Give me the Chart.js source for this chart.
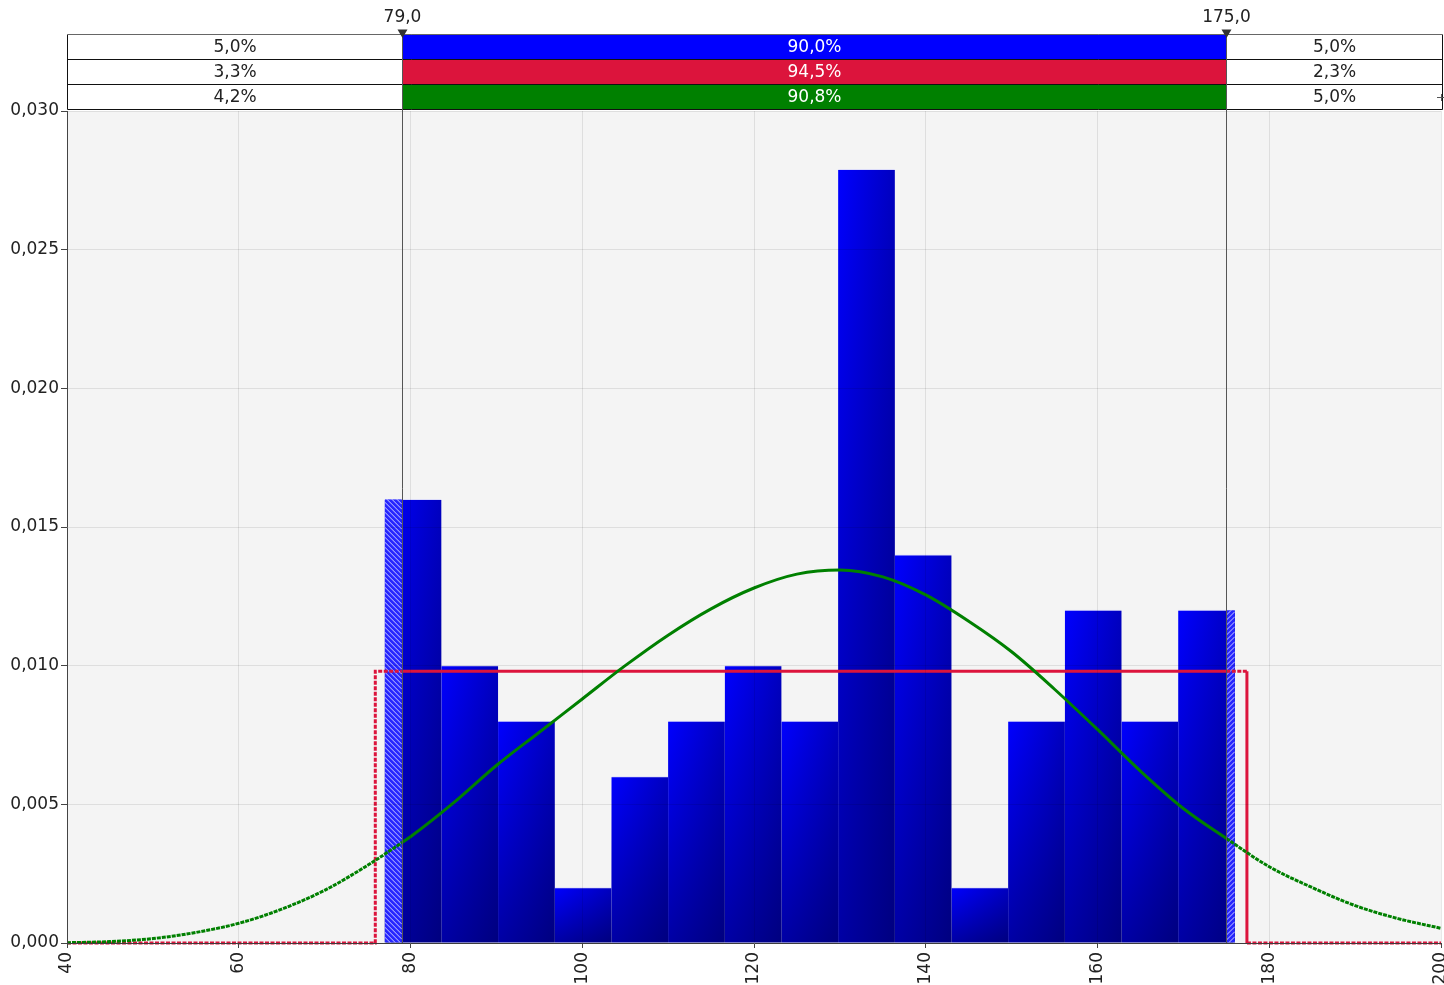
<!DOCTYPE html>
<html>
<head>
<meta charset="utf-8">
<script src="https://cdn.jsdelivr.net/npm/chart.js@4.4.1/dist/chart.umd.min.js"></script>
<style>
  html, body { margin: 0; padding: 0; background: #fff; overflow: hidden; }
  #wrap { width: 1444px; height: 985px; position: relative; }
</style>
</head>
<body>
<div id="wrap"><canvas id="c"></canvas></div>
<script>
// Histogram: bin centres and probability densities
const binCenters = [80.3, 86.9, 93.5, 100.1, 106.7, 113.3, 119.9, 126.5, 133.1, 139.7, 146.3, 152.9, 159.5, 166.1, 172.7];
const binDensity = [0.0160, 0.0100, 0.0080, 0.0020, 0.0060, 0.0080, 0.0100, 0.0080, 0.0279, 0.0140, 0.0020, 0.0080, 0.0120, 0.0080, 0.0120];

// Fitted uniform density (outline)
const uniformX = [40, 75.9, 75.9, 79, 175, 177.4, 177.4, 200];
const uniformY = [0, 0, 0.0098, 0.0098, 0.0098, 0.0098, 0, 0];

// Fitted normal density
const normalX = [40, 45, 50, 55, 60, 65, 70, 75, 79, 80, 85, 90, 95, 100, 105, 110, 115, 120, 125, 130,
                 135, 140, 145, 150, 155, 160, 165, 170, 175, 180, 185, 190, 195, 200];
const normalY = [0.00001, 0.00005, 0.00016, 0.00038, 0.00071, 0.00122, 0.00190, 0.00280, 0.00362, 0.00383,
                 0.00505, 0.00640, 0.00760, 0.00880, 0.01000, 0.01110, 0.01205, 0.01280, 0.01330, 0.01345,
                 0.01320, 0.01255, 0.01160, 0.01050, 0.00915, 0.00770, 0.00620, 0.00485, 0.00377, 0.00275,
                 0.00200, 0.00135, 0.00088, 0.00053];

// Delimiters and the probability bands they produce (histogram, uniform, normal)
const delimiters = [79.0, 175.0];
const leftPercents = [5.0, 3.3, 4.2];
const midPercents = [90.0, 94.5, 90.8];
const rightPercents = [5.0, 2.3, 5.0];
const rowColors = ['#0000ff', '#dc143c', '#008000'];

const FONT = 'DejaVu Sans';
const FSIZE = 17;
Chart.defaults.font.family = FONT;
Chart.defaults.font.size = FSIZE;
Chart.defaults.color = '#222';

const fmtPct = v => v.toFixed(1).replace('.', ',') + '%';
const fmtNum = (v, d) => v.toFixed(d).replace('.', ',');
const outside = (a, b) => (a <= delimiters[0] && b <= delimiters[0]) || (a >= delimiters[1] && b >= delimiters[1]);

// plot background
const plotBackground = {
  id: 'plotBackground',
  beforeDraw(chart) {
    const { ctx, chartArea: a } = chart;
    ctx.save();
    ctx.fillStyle = '#ffffff';
    ctx.fillRect(0, 0, chart.width, chart.height);
    ctx.fillStyle = '#f4f4f4';
    ctx.fillRect(a.left, a.top, a.right - a.left, a.bottom - a.top);
    ctx.restore();
  }
};

// vertical shading on each bar and hatching of the parts beyond the delimiters
const barDecor = {
  id: 'barDecor',
  afterDatasetDraw(chart, args) {
    const meta = args.meta;
    if (meta.type !== 'bar') return;
    const { ctx } = chart;
    const xs = chart.scales.x;
    const dl = xs.getPixelForValue(delimiters[0]);
    const dr = xs.getPixelForValue(delimiters[1]);
    ctx.save();
    meta.data.forEach(el => {
      const { x, y, base, width } = el.getProps(['x', 'y', 'base', 'width'], true);
      const left = x - width / 2, right = x + width / 2, h = base - y;
      const g = ctx.createLinearGradient(0, y, 0, base);
      g.addColorStop(0, 'rgba(0,0,30,0)');
      g.addColorStop(1, 'rgba(0,0,30,0.40)');
      ctx.fillStyle = g;
      ctx.fillRect(left, y, width, h);

      const hatch = (rx0, rx1, dir) => {
        if (rx1 <= rx0) return;
        ctx.save();
        ctx.beginPath();
        ctx.rect(rx0, y, rx1 - rx0, h);
        ctx.clip();
        ctx.fillStyle = '#2626ff';
        ctx.fillRect(rx0, y, rx1 - rx0, h);
        ctx.strokeStyle = 'rgba(235,235,255,0.85)';
        ctx.lineWidth = 1;
        ctx.beginPath();
        const w = rx1 - rx0;
        for (let k = -w - 10; k < h + 10; k += 5) {
          if (dir > 0) {
            ctx.moveTo(rx0, y + k);
            ctx.lineTo(rx1, y + k + w);
          } else {
            ctx.moveTo(rx0, y + k + w);
            ctx.lineTo(rx1, y + k);
          }
        }
        ctx.stroke();
        ctx.restore();
      };
      if (left < dl) hatch(left, Math.min(right, dl), 1);
      if (right > dr) hatch(Math.max(left, dr), right, -1);
    });
    ctx.restore();
  }
};

// probability band table, delimiter lines and markers
const header = {
  id: 'header',
  afterDraw(chart) {
    const { ctx, chartArea: a } = chart;
    const xs = chart.scales.x;
    const dl = Math.round(xs.getPixelForValue(delimiters[0])) + 0.5;
    const dr = Math.round(xs.getPixelForValue(delimiters[1])) + 0.5;
    const L = a.left + 0.5, R = chart.width - 1.5;
    const top = 34.5, rowH = 25;
    ctx.save();
    ctx.font = FSIZE + 'px ' + FONT;
    ctx.textAlign = 'center';
    ctx.textBaseline = 'middle';
    for (let r = 0; r < 3; r++) {
      const y0 = top + r * rowH;
      ctx.fillStyle = '#ffffff';
      ctx.fillRect(L, y0, dl - L, rowH);
      ctx.fillRect(dr, y0, R - dr, rowH);
      ctx.fillStyle = rowColors[r];
      ctx.fillRect(dl, y0, dr - dl, rowH);
      ctx.fillStyle = '#222';
      ctx.fillText(fmtPct(leftPercents[r]), (L + dl) / 2, y0 + rowH / 2 + 1);
      ctx.fillText(fmtPct(rightPercents[r]), (dr + R) / 2, y0 + rowH / 2 + 1);
      ctx.fillStyle = '#ffffff';
      ctx.fillText(fmtPct(midPercents[r]), (dl + dr) / 2, y0 + rowH / 2 + 1);
    }
    ctx.lineWidth = 1;
    ctx.strokeStyle = '#111';
    ctx.beginPath();
    for (let r = 1; r <= 3; r++) {
      ctx.moveTo(L, top + r * rowH);
      ctx.lineTo(R, top + r * rowH);
    }
    [L, R].forEach(x => { ctx.moveTo(x, top); ctx.lineTo(x, top + 3 * rowH); });
    ctx.stroke();
    ctx.strokeStyle = '#666';
    ctx.beginPath();
    ctx.moveTo(L, top); ctx.lineTo(R, top);
    ctx.stroke();

    // delimiter lines
    ctx.strokeStyle = '#555';
    ctx.beginPath();
    [dl, dr].forEach(x => { ctx.moveTo(x, top); ctx.lineTo(x, a.bottom); });
    ctx.stroke();

    // markers and labels
    ctx.fillStyle = '#333';
    [dl, dr].forEach(x => {
      ctx.beginPath();
      ctx.moveTo(x - 5, 29.5);
      ctx.lineTo(x + 5, 29.5);
      ctx.lineTo(x, 38);
      ctx.closePath();
      ctx.fill();
    });
    ctx.fillStyle = '#222';
    ctx.fillText(fmtNum(delimiters[0], 1), dl, 18);
    ctx.fillText(fmtNum(delimiters[1], 1), dr, 18);

    // small marker at the right end of the last row
    ctx.strokeStyle = '#555';
    ctx.beginPath();
    ctx.moveTo(1437, 97.5); ctx.lineTo(1444, 97.5);
    ctx.moveTo(1441.5, 94); ctx.lineTo(1441.5, 101);
    ctx.stroke();
    ctx.restore();
  }
};

const gridOpts = { color: 'rgba(0,0,0,0.09)', z: 1, offset: false, tickLength: 6, tickColor: '#444', drawTicks: true };
const borderOpts = { color: '#444', width: 1, z: 1 };

new Chart(document.getElementById('c'), {
  type: 'line',
  data: {
    datasets: [
      {
        type: 'line',
        label: 'Normal',
        data: normalX.map((x, i) => ({ x, y: normalY[i] })),
        borderColor: '#008000',
        borderWidth: 3,
        pointRadius: 0,
        cubicInterpolationMode: 'monotone',
        fill: false,
        order: 1,
        clip: 4,
        segment: {
          borderDash: ctx => outside(ctx.p0.parsed.x, ctx.p1.parsed.x) ? [4, 1] : undefined
        }
      },
      {
        type: 'line',
        label: 'Uniform',
        data: uniformX.map((x, i) => ({ x, y: uniformY[i] })),
        borderColor: '#dc143c',
        borderWidth: 3,
        pointRadius: 0,
        tension: 0,
        fill: false,
        order: 2,
        clip: 4,
        segment: {
          borderDash: ctx => outside(ctx.p0.parsed.x, ctx.p1.parsed.x) ? [4, 1.5] : undefined
        }
      },
      {
        type: 'bar',
        label: 'Histogram',
        data: binCenters.map((x, i) => ({ x, y: binDensity[i] })),
        barPercentage: 1.0,
        categoryPercentage: 1.0,
        grouped: false,
        order: 3,
        borderWidth: { top: 1, left: 0, right: 0, bottom: 0 },
        borderColor: 'rgba(200,200,255,0.55)',
        borderSkipped: false,
        backgroundColor(ctx) {
          const chart = ctx.chart;
          if (!chart.chartArea || ctx.type !== 'data') return '#0000ff';
          const xs = chart.scales.x;
          const cx = xs.getPixelForValue(binCenters[ctx.dataIndex]);
          const half = (xs.getPixelForValue(binCenters[1]) - xs.getPixelForValue(binCenters[0])) / 2;
          const g = chart.ctx.createLinearGradient(cx - half, 0, cx + half, 0);
          g.addColorStop(0, '#0000ff');
          g.addColorStop(1, '#0000c0');
          return g;
        }
      }
    ]
  },
  options: {
    responsive: true,
    maintainAspectRatio: false,
    animation: false,
    events: [],
    layout: { padding: { top: 111, right: 3, left: 0, bottom: 0 } },
    plugins: { legend: { display: false }, tooltip: { enabled: false }, title: { display: false } },
    scales: {
      x: {
        type: 'linear',
        min: 40,
        max: 200,
        offset: false,
        ticks: {
          stepSize: 20,
          minRotation: 90,
          maxRotation: 90,
          autoSkip: false,
          padding: 4,
          color: '#222',
          callback: v => String(v)
        },
        grid: Object.assign({}, gridOpts, { tickLength: 5 }),
        border: borderOpts,
        afterFit(s) { s.height = 42; s.paddingLeft = 0; s.paddingRight = 0; }
      },
      y: {
        min: 0,
        max: 0.03,
        offset: false,
        ticks: {
          stepSize: 0.005,
          padding: 2,
          color: '#222',
          callback: v => fmtNum(v, 3)
        },
        grid: gridOpts,
        border: borderOpts,
        afterFit(s) { s.width = 67; s.paddingTop = 0; s.paddingBottom = 0; }
      }
    }
  },
  plugins: [plotBackground, barDecor, header]
});
</script>
</body>
</html>
